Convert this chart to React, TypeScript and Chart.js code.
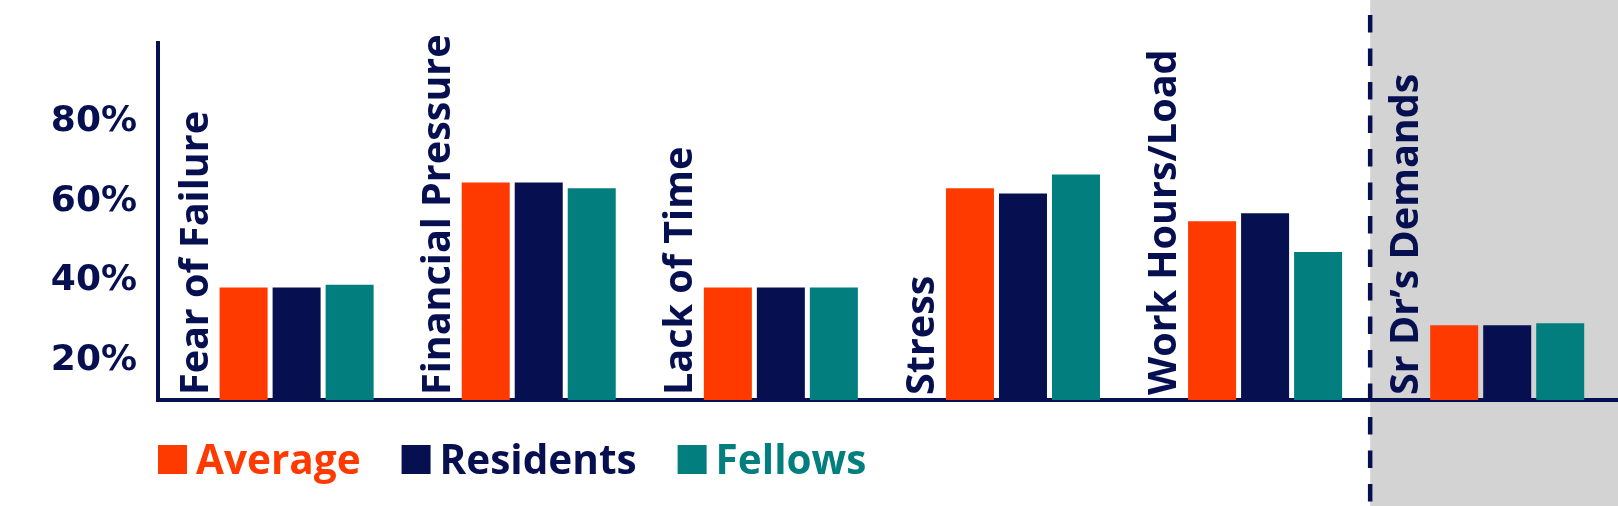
import React, { useEffect, useRef } from 'react';
import { Chart, registerables } from 'chart.js';

Chart.register(...registerables);

// ---- data ----
const categories = [
  'Fear of Failure',
  'Financial Pressure',
  'Lack of Time',
  'Stress',
  'Work Hours/Load',
  'Sr Dr\u2019s Demands',
];
const seriesNames = ['Average', 'Residents', 'Fellows'];
const average = [38.3, 64.8, 38.3, 63.3, 55.0, 28.8];
const residents = [38.3, 64.8, 38.3, 62.0, 57.0, 28.8];
const fellows = [39.0, 63.3, 38.3, 66.8, 47.3, 29.3];
const yTicks = [20, 40, 60, 80];
const yMin = 10;
const yMax = 100;
// x axis bounds in category-index units
const xMin = -0.5725;
const xMax = 5.4576;
// boundary (in category-index units) where the shaded section starts
const sectionBoundary = 4.434;

// ---- styles ----
const ORANGE = '#ff3a00';
const NAVY = '#061050';
const TEAL = '#037e7e';
const GRAY = '#d3d3d3';
const LABEL_FONT = 'bold 39.5px "Open Sans"';
const LEGEND_FONT = 'bold 40.5px "Open Sans"';

const sectionPlugin = {
  id: 'sectionShade',
  beforeDraw(chart: any) {
    const { ctx } = chart;
    const x = chart.scales.x.getPixelForValue(sectionBoundary);
    ctx.save();
    ctx.fillStyle = GRAY;
    ctx.fillRect(x, 0, chart.width - x, chart.height);
    ctx.restore();
  },
  afterDraw(chart: any) {
    const { ctx } = chart;
    const x = chart.scales.x.getPixelForValue(sectionBoundary);
    ctx.save();
    ctx.strokeStyle = NAVY;
    ctx.lineWidth = 4.5;
    ctx.setLineDash([17.5, 16]);
    ctx.beginPath();
    ctx.moveTo(x, 15);
    ctx.lineTo(x, chart.height);
    ctx.stroke();
    ctx.restore();
  },
};

const categoryLabelPlugin = {
  id: 'categoryLabels',
  afterDatasetsDraw(chart: any) {
    const { ctx, chartArea } = chart;
    const meta = chart.getDatasetMeta(0);
    ctx.save();
    ctx.font = LABEL_FONT;
    ctx.fillStyle = NAVY;
    ctx.textAlign = 'left';
    ctx.textBaseline = 'alphabetic';
    meta.data.forEach((bar: any, i: number) => {
      const { x, width } = bar.getProps(['x', 'width'], true);
      ctx.save();
      ctx.translate(x - width / 2 - 12, chartArea.bottom - 5);
      ctx.rotate(-Math.PI / 2);
      ctx.fillText(chart.data.labels[i], 0, 0);
      ctx.restore();
    });
    ctx.restore();
  },
};

const legendPlugin = {
  id: 'bottomLegend',
  afterDraw(chart: any) {
    const { ctx, chartArea } = chart;
    const box = 29;
    let x = chartArea.left;
    const top = chartArea.bottom + 45;
    ctx.save();
    ctx.font = LEGEND_FONT;
    ctx.textAlign = 'left';
    ctx.textBaseline = 'alphabetic';
    chart.data.datasets.forEach((ds: any) => {
      ctx.fillStyle = ds.backgroundColor;
      ctx.fillRect(x, top, box, box);
      ctx.fillText(ds.label, x + box + 9, top + box);
      x += box + 9 + ctx.measureText(ds.label).width + 41;
    });
    ctx.restore();
  },
};

export default function App() {
  const canvasRef = useRef<HTMLCanvasElement | null>(null);

  useEffect(() => {
    if (!canvasRef.current) return;
    const toPoints = (arr: number[]) => arr.map((v, i) => ({ x: i, y: v }));
    const chart = new Chart(canvasRef.current, {
      type: 'bar',
      data: {
        labels: categories,
        datasets: [
          { label: seriesNames[0], data: toPoints(average), backgroundColor: ORANGE },
          { label: seriesNames[1], data: toPoints(residents), backgroundColor: NAVY },
          { label: seriesNames[2], data: toPoints(fellows), backgroundColor: TEAL },
        ],
      },
      options: {
        responsive: false,
        animation: false,
        devicePixelRatio: 1,
        events: [],
        layout: { padding: { top: 40, right: 0, bottom: 0, left: 0 } },
        datasets: {
          bar: {
            categoryPercentage: 0.6568,
            barPercentage: 0.9057,
            borderWidth: 0,
          },
        },
        plugins: {
          legend: { display: false },
          tooltip: { enabled: false },
          title: { display: false },
        },
        scales: {
          x: {
            type: 'linear',
            min: xMin,
            max: xMax,
            offset: false,
            afterBuildTicks: (s: any) => {
              s.ticks = categories.map((_, i) => ({ value: i }));
            },
            ticks: { display: false },
            grid: { display: false, drawTicks: false },
            border: { display: true, color: NAVY, width: 4 },
            afterFit: (s: any) => {
              s.height = 106;
            },
          },
          y: {
            min: yMin,
            max: yMax,
            afterBuildTicks: (s: any) => {
              s.ticks = yTicks.map((v) => ({ value: v }));
            },
            afterFit: (s: any) => {
              s.width = 158;
            },
            grid: { display: false, drawTicks: false },
            border: { display: true, color: NAVY, width: 4 },
            ticks: {
              padding: 21,
              color: NAVY,
              font: { family: 'DejaVu Sans', weight: 'bold', size: 36 },
              callback: (v: any) => `${v}%`,
            },
          },
        },
      },
      plugins: [sectionPlugin, categoryLabelPlugin, legendPlugin],
    });
    return () => chart.destroy();
  }, []);

  return (
    <div style={{ position: 'fixed', left: 0, top: 0, width: 1618, height: 506 }}>
      <canvas ref={canvasRef} width={1618} height={506} />
    </div>
  );
}
